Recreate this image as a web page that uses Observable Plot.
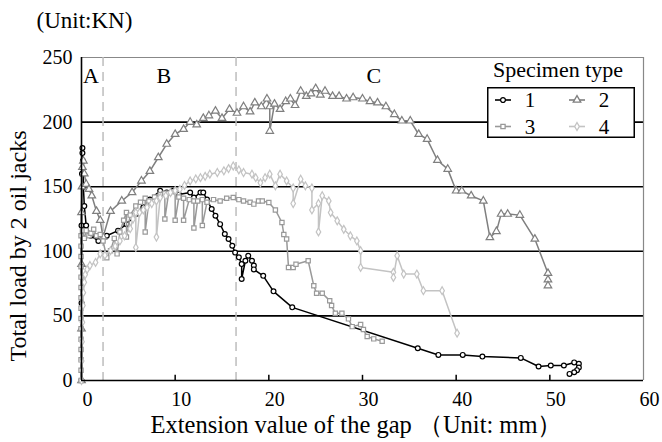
<!DOCTYPE html>
<html><head><meta charset="utf-8">
<script src="https://cdn.jsdelivr.net/npm/d3@7"></script>
<script src="https://cdn.jsdelivr.net/npm/@observablehq/plot@0.6"></script>
<style>
body{margin:0;background:#fff;}
#wrap{position:relative;width:662px;height:442px;font-family:"Liberation Serif","Tinos","Times New Roman","DejaVu Serif",serif;}
#wrap svg{display:block;}
#legendTitle{position:absolute;left:468px;top:57px;width:180px;text-align:center;font-size:22px;line-height:26px;}
#legend{position:absolute;left:487px;top:87px;}
</style></head><body><div id="wrap"></div>
<script>
const seriesNames = ["1", "2", "3", "4"];
const seriesColors = ["#000000", "#7f7f7f", "#999999", "#c3c3c3"];
const seriesSymbols = ["circle", "triangle", "square", "diamond"];
const legendTitle = "Specimen type";

const s1x = [0, 0, 0, 0.05, 0.1, 0.1, 0.15, 0.2, 0.3, 0.5, 1.0, 1.8, 2.7, 3.9, 4.8, 5.9, 6.6, 7.3, 8.4, 9.1, 9.8, 10.4, 11.6, 12.0, 12.7, 13.0, 13.4, 13.9, 14.3, 14.8, 15.3, 15.7, 16.1, 16.4, 16.8, 17.1, 17.1, 17.5, 17.8, 18.2, 18.4, 18.4, 19.4, 20.5, 22.5, 35.9, 38.1, 40.7, 42.8, 46.9, 48.8, 50.1, 51.5, 52.6, 53.1, 53.1, 52.9, 52.6, 52.1];
const s1y = [0, 60, 120, 160, 176, 180, 170, 150, 135, 120, 112, 108, 112, 116, 121, 129, 134, 140, 146.8, 145.5, 146.8, 144, 145.5, 141.6, 145.5, 145.5, 140, 132.7, 127.5, 121, 113.4, 109.5, 104.3, 99, 95.3, 90.1, 78.6, 92.7, 96.6, 92.7, 89, 86, 81, 69, 56.6, 25, 19.8, 19.8, 18.5, 17.5, 10.8, 11.6, 11.6, 14, 12.9, 10, 8, 6.4, 5.1];

const s2x = [0, 0, 0, 0, 0.05, 0.1, 0.2, 0.3, 0.5, 0.8, 1.1, 1.6, 2.0, 2.3, 3.1, 4.3, 5.4, 6.4, 7.3, 8.2, 9.1, 10.0, 10.9, 11.6, 12.3, 13.0, 13.6, 14.3, 15.0, 15.8, 16.6, 17.3, 18.0, 18.5, 19.2, 19.8, 20.1, 20.1, 20.6, 21.2, 21.8, 22.3, 22.8, 23.4, 24.0, 24.5, 25.0, 25.5, 26.0, 26.8, 27.5, 28.3, 29.0, 30.0, 30.8, 31.6, 32.5, 33.4, 34.2, 35.1, 36.0, 36.9, 38.0, 39.1, 40.0, 40.6, 41.6, 42.9, 43.6, 44.3, 44.8, 45.5, 46.8, 48.4, 49.8, 49.8, 49.8];
const s2y = [0, 40, 90, 130, 150, 165, 170, 160, 152, 148, 143, 131, 124, 111, 131, 139, 145.5, 154.5, 162, 172.6, 183, 190.6, 194.5, 200, 198, 203, 205, 208.6, 203, 210, 207, 212, 208, 215, 212, 218, 212, 193, 214, 210, 216, 218, 213, 224, 220, 222, 226, 221, 224, 220, 220, 218, 219, 218, 216, 215, 212, 206, 201, 201, 190.6, 186.8, 170.5, 163.6, 146.8, 146.8, 143, 139, 110.7, 115.4, 128.8, 128.8, 128, 109.5, 83, 78, 73.4];

const s3x = [-0.05, -0.05, -0.05, -0.05, -0.05, -0.05, -0.05, -0.05, -0.05, -0.05, -0.05, -0.05, -0.05, -0.05, -0.05, 0.1, 0.3, 0.5, 0.8, 1.0, 1.3, 1.6, 2.0, 2.3, 2.7, 3.1, 3.5, 3.8, 4.1, 4.5, 4.8, 4.8, 5.2, 5.8, 6.3, 6.8, 6.8, 7.2, 7.8, 8.4, 8.9, 8.9, 9.3, 10.0, 10.0, 10.4, 10.9, 10.9, 11.5, 12.0, 12.0, 12.4, 12.9, 12.9, 13.4, 14.1, 14.8, 15.5, 16.2, 16.8, 17.3, 18.0, 18.4, 18.9, 19.3, 20.0, 20.7, 21.4, 21.6, 21.9, 22.1, 22.6, 22.9, 24.2, 24.8, 25.1, 25.7, 26.5, 26.7, 27.1, 27.8, 28.5, 28.9, 29.8, 30.1, 30.5, 31.2, 32.1];
const s3y = [0, 8, 16, 24, 32, 40, 48, 56, 64, 72, 80, 88, 96, 104, 112, 116, 110, 116, 112, 114, 117, 112, 113, 108, 95, 100.5, 110, 98, 115, 124, 130, 111, 128, 135, 138, 141, 115, 139, 142, 144, 145, 125, 145, 146, 124, 142, 141, 124, 140, 139, 118, 139, 140, 120, 138, 140, 139, 141, 141.6, 140, 139, 138, 136.5, 139, 139, 137.8, 132, 122.3, 113, 109.5, 87.5, 87.5, 90, 92.7, 73.4, 67.5, 67.5, 61.8, 58, 52, 52, 47.7, 41.7, 43.3, 39.4, 34, 32.2, 30.4];

const s4x = [0, 0.02, 0.05, 0.1, 0.15, 0.2, 0.3, 0.4, 0.6, 0.9, 1.5, 2.0, 2.5, 3.1, 3.6, 4.1, 4.6, 5.2, 5.5, 5.8, 5.8, 6.2, 6.6, 7.0, 7.5, 8.0, 8.0, 8.4, 9.0, 9.5, 10.0, 10.5, 11.0, 11.6, 12.2, 12.7, 13.2, 13.7, 14.5, 15.2, 15.7, 16.2, 16.8, 17.3, 18.2, 18.6, 19.1, 19.6, 20.1, 20.7, 21.2, 21.9, 22.6, 22.6, 23.4, 23.9, 24.6, 24.6, 25.3, 25.3, 25.7, 26.4, 26.6, 27.3, 28.0, 28.7, 29.4, 29.8, 29.8, 33.3, 33.3, 33.7, 34.4, 35.8, 36.5, 38.5, 40.1];
const s4y = [0, 15, 30, 45, 58, 68, 76, 82, 86, 89, 91.4, 98, 97, 100.5, 104, 108, 112, 117.5, 125, 130, 103, 130, 132, 134, 137, 139, 111, 141.6, 143, 145.5, 147, 148, 151, 154.5, 156, 157, 158, 159.7, 161, 162.3, 164, 166, 163, 161, 159.7, 157, 153, 157, 159.7, 150.7, 159.7, 154.5, 149, 137, 155.8, 150.7, 149, 132, 137, 115, 143, 139, 130, 123.6, 117, 112, 108, 100.5, 87.5, 83.7, 79.8, 96.6, 82.4, 82.4, 69.5, 69.5, 36.6];

const xTicks = [0, 10, 20, 30, 40, 50, 60];
const yTicks = [0, 50, 100, 150, 200, 250];
const regionBounds = [2.3, 16.5];
const regionNames = ["A", "B", "C"];
const regionLabelX = [1.0, 8.8, 31.2];
const xLabel = "Extension value of the gap （Unit: mm）";
const yLabel = "Total load by 2 oil jacks";
const unitLabel = "(Unit:KN)";

const xs = [s1x, s2x, s3x, s4x];
const ys = [s1y, s2y, s3y, s4y];
const tables = xs.map((arr, i) => arr.map((x, j) => ({series: seriesNames[i], x, y: ys[i][j]})));

const seriesMarks = [];
for (const i of [0, 1, 2, 3]) {
  seriesMarks.push(Plot.line(tables[i], {x: "x", y: "y", stroke: seriesColors[i], strokeWidth: 1.5}));
  seriesMarks.push(Plot.dot(tables[i], {x: "x", y: "y", stroke: seriesColors[i], fill: "white", r: i === 1 ? 2.8 : 2.4, strokeWidth: 1.2, symbol: seriesSymbols[i]}));
}

const FONT = "'Liberation Serif','Tinos','Times New Roman','DejaVu Serif',serif";
const chart = Plot.plot({
  width: 662, height: 442,
  marginLeft: 81, marginRight: 19, marginTop: 57, marginBottom: 62,
  x: {domain: [0, 60], label: null},
  y: {domain: [0, 250], label: null},
  style: {fontFamily: FONT, fontSize: "20px", background: "white", color: "black"},
  marks: [
    Plot.ruleY(yTicks.slice(1, -1), {stroke: "black", strokeWidth: 1.6}),
    Plot.ruleY(yTicks.slice(-1), {stroke: "#888", strokeWidth: 1.2}),
    Plot.ruleX(xTicks.slice(-1), {stroke: "#888", strokeWidth: 1.2}),
    Plot.ruleX(regionBounds, {stroke: "#bdbdbd", strokeWidth: 1.5, strokeDasharray: "9,6"}),
    Plot.text(regionNames, {x: (d, i) => regionLabelX[i], frameAnchor: "top", lineAnchor: "middle", dy: 18, fontSize: 22, fill: "black"}),
    ...seriesMarks,
    Plot.ruleY(yTicks.slice(0, 1), {stroke: "black", strokeWidth: 1.6}),
    Plot.ruleX(xTicks.slice(0, 1), {stroke: "black", strokeWidth: 1.6}),
    Plot.ruleX(xTicks.slice(1, -1), {y1: 0, y2: 4, stroke: "black", strokeWidth: 1.5}),
    Plot.axisY(yTicks, {tickSize: 0, tickPadding: 9, fontSize: 20, label: null}),
    Plot.axisX(xTicks, {tickSize: 0, tickPadding: 11, dx: 6, fontSize: 20, label: null}),
    Plot.text([xLabel], {frameAnchor: "bottom", textAnchor: "middle", lineAnchor: "middle", dy: 45, dx: -6, fontSize: 24.5, fill: "black"}),
    Plot.text([yLabel], {frameAnchor: "left", textAnchor: "middle", lineAnchor: "middle", rotate: -90, dx: -63, dy: 27, fontSize: 24, fill: "black"}),
    Plot.text([unitLabel], {frameAnchor: "top-left", textAnchor: "start", lineAnchor: "middle", dx: -45, dy: -37, fontSize: 23, fill: "black"})
  ]
});

const wrap = document.getElementById("wrap");
wrap.appendChild(chart);

// legend
const t = document.createElement("div");
t.id = "legendTitle";
t.textContent = legendTitle;
wrap.appendChild(t);

const lg = document.createElement("div");
lg.id = "legend";
const W = 148, H = 51;
const symPath = (s, cx, cy) => {
  const g = d3.symbol(s === "circle" ? d3.symbolCircle : s === "triangle" ? d3.symbolTriangle : s === "square" ? d3.symbolSquare : d3.symbolDiamond, s === "triangle" ? 2.8 * 2.8 * Math.PI : 2.4 * 2.4 * Math.PI)();
  return `<path transform="translate(${cx},${cy})" d="${g}"/>`;
};
let inner = `<rect x="0.75" y="0.75" width="${W - 1.5}" height="${H - 1.5}" fill="white" stroke="black" stroke-width="1.5"/>`;
seriesNames.forEach((name, i) => {
  const col = i % 2, row = Math.floor(i / 2);
  const x0 = col === 0 ? 8 : 82;
  const cy = row === 0 ? 13 : 39.5;
  inner += `<g stroke="${seriesColors[i]}" fill="white" stroke-width="1.3"><line x1="${x0}" x2="${x0 + 16}" y1="${cy}" y2="${cy}" stroke-width="1.6"/>${symPath(seriesSymbols[i], x0 + 8, cy)}</g>`;
  inner += `<text x="${x0 + 35}" y="${cy}" dy="0.34em" text-anchor="middle" font-size="21" fill="black">${name}</text>`;
});
lg.innerHTML = `<svg width="${W}" height="${H}" style="font-family:${FONT}">${inner}</svg>`;
wrap.appendChild(lg);
</script>
</body></html>
